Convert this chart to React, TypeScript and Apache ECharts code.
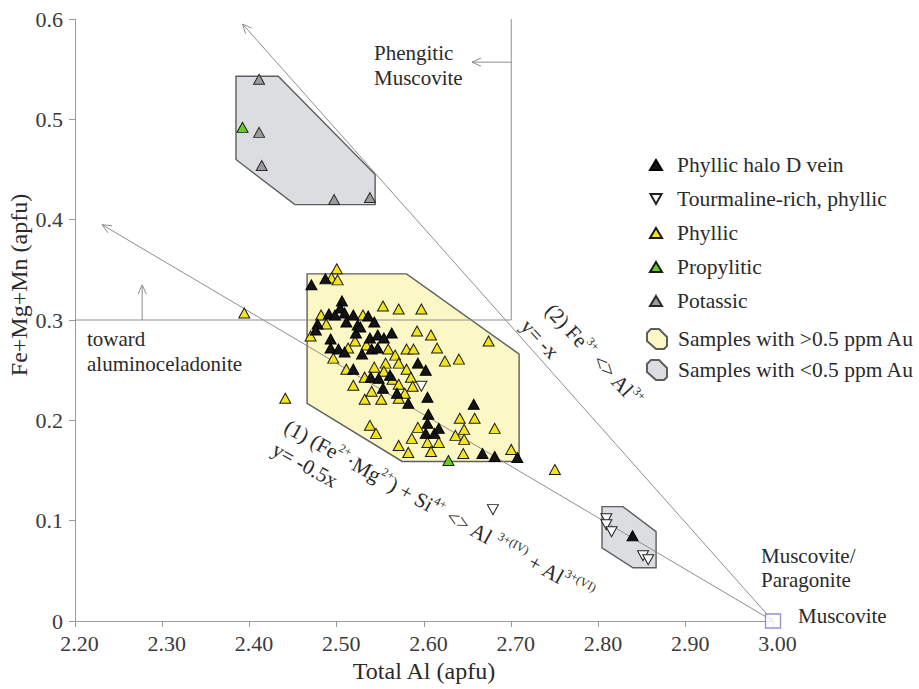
import React, { useEffect, useRef } from 'react';
import * as echarts from 'echarts';

const FONT = 'Liberation Serif';

// ---- data (Total Al, Fe+Mg+Mn) ----
const phyllicHaloD = [
  [2.471, 0.335], [2.487, 0.341], [2.506, 0.319], [2.504, 0.312], [2.491, 0.306], [2.498, 0.305],
  [2.509, 0.307], [2.519, 0.305], [2.536, 0.304], [2.543, 0.298], [2.524, 0.295], [2.511, 0.298],
  [2.478, 0.296], [2.476, 0.29], [2.522, 0.287], [2.527, 0.293], [2.538, 0.282], [2.547, 0.285],
  [2.554, 0.282], [2.563, 0.287], [2.493, 0.281], [2.493, 0.272], [2.502, 0.271], [2.509, 0.268],
  [2.529, 0.266], [2.54, 0.271], [2.547, 0.272], [2.519, 0.251], [2.539, 0.243], [2.548, 0.242],
  [2.553, 0.232], [2.561, 0.245], [2.569, 0.227], [2.582, 0.217], [2.593, 0.257], [2.602, 0.25],
  [2.604, 0.223], [2.605, 0.206], [2.604, 0.197], [2.602, 0.187], [2.612, 0.187], [2.617, 0.192],
  [2.657, 0.216], [2.667, 0.167], [2.681, 0.164], [2.707, 0.163], [2.839, 0.085],
];
const tourmalinePhyllic = [
  [2.597, 0.234], [2.679, 0.111], [2.809, 0.102], [2.809, 0.096], [2.815, 0.089], [2.851, 0.065], [2.857, 0.061],
];
const phyllic = [
  [2.5, 0.351], [2.494, 0.342], [2.501, 0.34], [2.394, 0.307], [2.553, 0.314], [2.571, 0.311],
  [2.597, 0.311], [2.482, 0.305], [2.488, 0.296], [2.53, 0.305], [2.47, 0.284], [2.521, 0.279],
  [2.592, 0.289], [2.608, 0.285], [2.615, 0.272], [2.58, 0.271], [2.588, 0.271], [2.559, 0.271],
  [2.513, 0.272], [2.496, 0.262], [2.567, 0.265], [2.624, 0.259], [2.64, 0.261], [2.674, 0.279],
  [2.511, 0.251], [2.543, 0.253], [2.556, 0.257], [2.554, 0.249], [2.571, 0.257], [2.58, 0.251],
  [2.532, 0.243], [2.564, 0.241], [2.585, 0.243], [2.519, 0.235], [2.54, 0.229], [2.532, 0.221],
  [2.551, 0.221], [2.571, 0.236], [2.578, 0.227], [2.571, 0.222], [2.587, 0.234], [2.441, 0.222],
  [2.538, 0.195], [2.545, 0.187], [2.571, 0.175], [2.582, 0.168], [2.586, 0.182], [2.593, 0.193],
  [2.604, 0.178], [2.608, 0.169], [2.617, 0.178], [2.636, 0.185], [2.646, 0.191], [2.646, 0.181],
  [2.645, 0.167], [2.641, 0.202], [2.658, 0.202], [2.681, 0.192], [2.7, 0.171], [2.75, 0.151],
  [2.534, 0.275],
];
const propylitic = [[2.628, 0.16], [2.392, 0.492]];
const potassic = [[2.411, 0.54], [2.411, 0.487], [2.414, 0.454], [2.497, 0.42], [2.538, 0.422]];
const muscovite = [[3.0, 0.0]];

// sample fields (polygon vertices)
const highAuFields = [
  [[2.466, 0.346], [2.58, 0.346], [2.709, 0.266], [2.709, 0.159], [2.575, 0.159], [2.466, 0.217]],
];
const lowAuFields = [
  [[2.3845, 0.543], [2.433, 0.543], [2.544, 0.445], [2.544, 0.415], [2.452, 0.415], [2.3845, 0.46]],
  [[2.804, 0.114], [2.828, 0.114], [2.866, 0.089], [2.866, 0.053], [2.8395, 0.053], [2.804, 0.073]],
];

// reference lines: x1, y1, x2, y2, arrowhead at end (1/0)
const refLines = [
  [2.2, 0.3, 2.7, 0.3, 0],
  [2.7, 0.3, 2.7, 0.6, 0],
  [2.7, 0.557, 2.655, 0.557, 1],
  [2.277, 0.3, 2.277, 0.335, 1],
  [3.0, 0.0, 2.392, 0.595, 1],
  [3.0, 0.0, 2.231, 0.395, 1],
];

const xTicks = { min: 2.2, max: 3.0, step: 0.1 };
const yTicks = { min: 0, max: 0.6, step: 0.1 };

export default function App() {
  const ref = useRef<HTMLDivElement>(null);

  useEffect(() => {
    const chart = echarts.init(ref.current as HTMLDivElement, null, { renderer: 'svg' });

    const tri = (name: string, data: number[][], color: string, border: string, rotate = 0) => ({
      type: 'scatter',
      name,
      data,
      symbol: 'triangle',
      symbolSize: [11, 10],
      symbolRotate: rotate,
      itemStyle: { color, borderColor: border, borderWidth: 1, opacity: 1 },
      z: 5,
      clip: false,
      silent: true,
      emphasis: { disabled: true },
    });

    const polySeries = (name: string, polys: number[][][], fill: string) => ({
      type: 'custom',
      name,
      coordinateSystem: 'cartesian2d',
      z: 1,
      silent: true,
      clip: false,
      itemStyle: { color: fill, borderColor: '#5e5e5e', borderWidth: 1 },
      data: polys.map((p) => p[0]),
      renderItem: (params: any, api: any) => {
        const pts = polys[params.dataIndex].map((p) => api.coord(p));
        return {
          type: 'polygon',
          shape: { points: pts },
          style: { fill, stroke: '#5e5e5e', lineWidth: 1.4 },
        };
      },
    });

    const lineColor = '#8e8e8e';
    const refSeries = {
      type: 'custom',
      name: 'reference lines',
      coordinateSystem: 'cartesian2d',
      z: 2,
      silent: true,
      clip: false,
      data: refLines.map((s) => [s[0], s[1]]),
      renderItem: (params: any, api: any) => {
        const s = refLines[params.dataIndex];
        const a = api.coord([s[0], s[1]]);
        const b = api.coord([s[2], s[3]]);
        const children: any[] = [
          { type: 'line', shape: { x1: a[0], y1: a[1], x2: b[0], y2: b[1] }, style: { stroke: lineColor, lineWidth: 1 } },
        ];
        if (s[4]) {
          const ang = Math.atan2(b[1] - a[1], b[0] - a[0]);
          const L = 10;
          const w = 0.42;
          const p1 = [b[0] - L * Math.cos(ang - w), b[1] - L * Math.sin(ang - w)];
          const p2 = [b[0] - L * Math.cos(ang + w), b[1] - L * Math.sin(ang + w)];
          children.push({
            type: 'polyline',
            shape: { points: [p1, [b[0], b[1]], p2] },
            style: { stroke: lineColor, lineWidth: 1, fill: 'none' },
          });
        }
        return { type: 'group', children };
      },
    };

    const rich = {
      n: { fontSize: 21, fontFamily: FONT, fill: '#2a2a2a', color: '#2a2a2a', verticalAlign: 'middle', lineHeight: 26 },
      s: { fontSize: 12, fontFamily: FONT, fill: '#2a2a2a', color: '#2a2a2a', verticalAlign: 'top', lineHeight: 12 },
    };

    const text = (x: number, y: number, t: string, extra: any = {}) => ({
      type: 'text',
      x,
      y,
      silent: true,
      style: {
        text: t,
        fontSize: 21,
        fontFamily: FONT,
        fill: '#2a2a2a',
        align: 'left',
        verticalAlign: 'middle',
        lineHeight: 25,
        ...extra,
      },
    });

    const rot = (x: number, y: number, t: string, deg: number) => ({
      type: 'text',
      x,
      y,
      rotation: (deg * Math.PI) / 180,
      silent: true,
      style: { text: t, rich, align: 'center', verticalAlign: 'middle', fontSize: 21, fontFamily: FONT, fill: '#2a2a2a' },
    });

    const hexIcon = 'path://M4,0 L12,0 L20,8 L20,17 L17,20 L9,20 L0,12 L0,4 Z';
    const downTri = 'path://M0,0 L10,0 L5,9 Z';

    const labelStyle = { fontSize: 22, fontFamily: FONT, color: '#3a3a3a' };
    const legendText = { fontSize: 21.5, fontFamily: FONT, color: '#2a2a2a', lineHeight: 24 };

    const option: any = {
      animation: false,
      backgroundColor: '#ffffff',
      textStyle: { fontFamily: FONT },
      grid: { left: 75, right: 146, top: 19, bottom: 68, containLabel: false },
      xAxis: {
        type: 'value',
        min: xTicks.min,
        max: xTicks.max,
        interval: xTicks.step,
        name: 'Total Al (apfu)',
        nameLocation: 'middle',
        nameGap: 35,
        nameTextStyle: { fontSize: 24, fontFamily: FONT, color: '#2a2a2a' },
        axisLine: { show: true, lineStyle: { color: '#9a9a9a', width: 1 } },
        axisTick: { show: true, length: 6, lineStyle: { color: '#9a9a9a' } },
        axisLabel: {
          ...labelStyle,
          margin: 11,
          padding: [0, 0, 0, 9],
          formatter: (v: number) => v.toFixed(2),
        },
        splitLine: { show: false },
      },
      yAxis: {
        type: 'value',
        min: yTicks.min,
        max: yTicks.max,
        interval: yTicks.step,
        axisLine: { show: true, lineStyle: { color: '#9a9a9a', width: 1 } },
        axisTick: { show: true, length: 6, lineStyle: { color: '#9a9a9a' } },
        axisLabel: {
          ...labelStyle,
          margin: 12,
          formatter: (v: number) => (Math.abs(v) < 1e-9 ? '0' : v.toFixed(1)),
        },
        splitLine: { show: false },
      },
      legend: [
        {
          orient: 'vertical',
          left: 649,
          top: 153,
          padding: 0,
          itemWidth: 12,
          itemHeight: 10,
          itemGap: 10,
          selectedMode: false,
          textStyle: { ...legendText, padding: [0, 0, 0, 10] },
          data: [
            { name: 'Phyllic halo D vein' },
            { name: 'Tourmaline-rich, phyllic', icon: downTri },
            { name: 'Phyllic' },
            { name: 'Propylitic' },
            { name: 'Potassic' },
          ],
        },
        {
          orient: 'vertical',
          left: 646,
          top: 327,
          padding: 0,
          itemWidth: 20,
          itemHeight: 20,
          itemGap: 7,
          selectedMode: false,
          textStyle: { ...legendText, padding: [0, 0, 0, 6] },
          data: [
            { name: 'Samples with >0.5 ppm Au', icon: hexIcon },
            { name: 'Samples with <0.5 ppm Au', icon: hexIcon },
          ],
        },
      ],
      series: [
        polySeries('Samples with >0.5 ppm Au', highAuFields, '#fbf8c6'),
        polySeries('Samples with <0.5 ppm Au', lowAuFields, '#dcdde0'),
        refSeries,
        tri('Phyllic', phyllic, '#f3e41c', '#1a1a1a'),
        tri('Potassic', potassic, '#9c9c9c', '#2a2a2a'),
        tri('Propylitic', propylitic, '#63cf23', '#1a1a1a'),
        tri('Phyllic halo D vein', phyllicHaloD, '#141414', '#000000'),
        tri('Tourmaline-rich, phyllic', tourmalinePhyllic, '#ffffff', '#222222', 180),
        {
          type: 'scatter',
          name: 'Muscovite end-member',
          data: muscovite,
          symbol: 'rect',
          symbolSize: [15, 14],
          clip: false,
          silent: true,
          z: 6,
          itemStyle: { color: '#ffffff', borderColor: '#7a78bf', borderWidth: 1.3 },
        },
      ],
      graphic: [
        {
          type: 'text',
          x: 19,
          y: 285,
          rotation: Math.PI / 2,
          silent: true,
          style: {
            text: 'Fe+Mg+Mn (apfu)',
            fontSize: 24,
            fontFamily: FONT,
            fill: '#2a2a2a',
            align: 'center',
            verticalAlign: 'middle',
          },
        },
        text(374, 65, 'Phengitic\nMuscovite'),
        text(87, 351, 'toward\naluminoceladonite'),
        text(761, 568, 'Muscovite/\nParagonite', { lineHeight: 24 }),
        text(798, 616, 'Muscovite'),
        rot(594, 355, '{n|(2) Fe}{s|3+}{n| <> Al}{s|3+}', -47),
        rot(540, 339, '{n|y= -x}', -47),
        rot(439, 510, '{n|(1) (Fe}{s|2+}{n|·Mg}{s|2+}{n|) + Si}{s|4+}{n| <> Al }{s|3+(IV)}{n| + Al}{s|3+(VI)}', -29),
        rot(305, 465, '{n|y= -0.5x}', -29),
      ],
    };

    chart.setOption(option);
    return () => {
      chart.dispose();
    };
  }, []);

  return (
    <div
      ref={ref}
      style={{ position: 'fixed', left: 0, top: 0, width: 919, height: 689, background: '#fff' }}
    />
  );
}
